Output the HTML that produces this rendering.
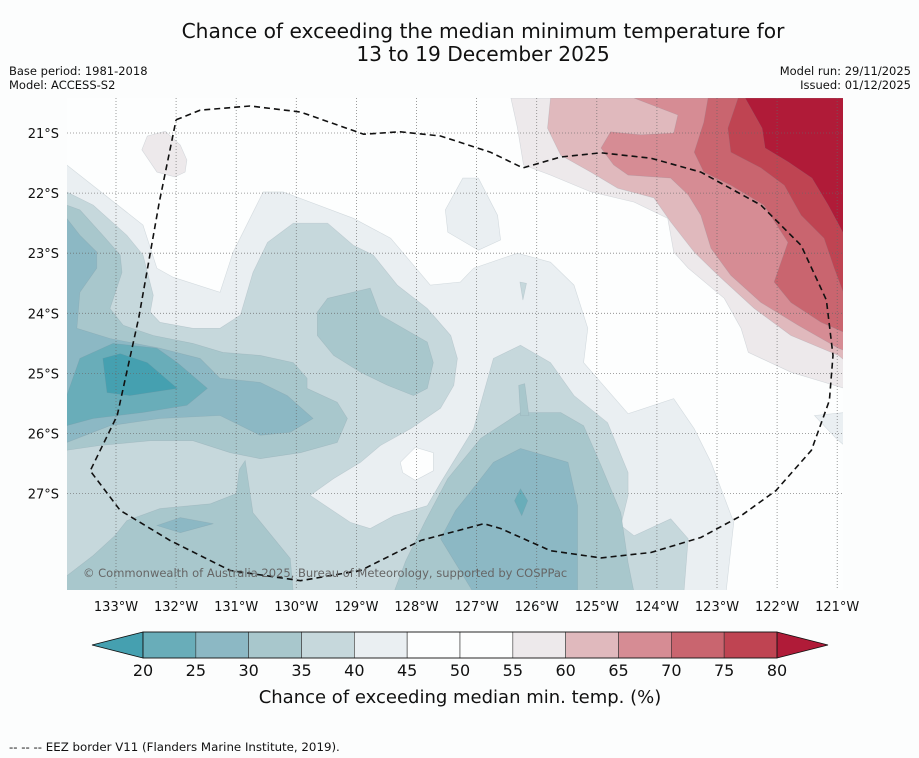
<!DOCTYPE html>
<html><head><meta charset="utf-8">
<style>
body{margin:0;background:#fcfdfd;width:919px;height:758px;overflow:hidden;font-family:"DejaVu Sans","Liberation Sans",sans-serif;}
svg{position:absolute;left:0;top:0}
text{font-family:"DejaVu Sans","Liberation Sans",sans-serif;}
</style></head>
<body>
<svg id="chart" width="919" height="758" viewBox="0 0 919 758"></svg>
<script>
// ---- data ----
const lonTicks=[133,132,131,130,129,128,127,126,125,124,123,122,121];
const latTicks=[21,22,23,24,25,26,27];
const levels=[20,25,30,35,40,45,50,55,60,65,70,75,80];
const binColors=["#69adb9","#8cb8c4","#a8c7cc","#c6d8dc","#eaeff2","#fdfefe","#fdfefe","#ede9eb","#e0b9bd","#d68c94","#c9656f","#bf4452"];
const underColor="#45a0b0", overColor="#b01b38";
const band40=[[133.82,21.53],[132.55,22.53],[132.32,23.25],[132.05,23.40],[131.27,23.65],[131.05,22.98],[130.55,21.98],[130.22,21.98],[129.05,22.42],[128.43,22.75],[127.77,23.53],[127.27,23.48],[127.05,23.25],[126.32,23.0],[125.77,23.15],[125.38,23.53],[125.15,24.25],[125.22,24.82],[124.48,25.67],[123.72,25.42],[123.38,25.92],[123.10,26.48],[122.72,27.48],[122.85,28.65],[133.82,28.65]];
const band40b=[[127.23,21.75],[126.97,21.75],[126.65,22.37],[126.6,22.78],[126.97,22.95],[127.48,22.65],[127.52,22.28]];
const band40c=[[121.38,25.7],[120.88,25.65],[120.88,26.2],[121.02,26.08]];
const hole45a=[[128.27,26.48],[128.02,26.23],[127.72,26.32],[127.72,26.62],[128.02,26.78],[128.23,26.65]];
const hole45b=[[133.82,27.45],[133.52,27.53],[133.38,28.03],[133.82,28.2]];
const band35=[[133.82,21.98],[133.38,22.2],[132.82,22.7],[132.55,23.03],[132.38,23.7],[132.43,23.98],[132.27,24.15],[131.72,24.25],[131.27,24.25],[130.93,24.03],[130.72,23.32],[130.48,22.82],[130.05,22.5],[129.48,22.5],[129.05,22.87],[128.72,23.03],[128.32,23.53],[127.82,23.92],[127.43,24.37],[127.32,24.75],[127.38,25.2],[127.6,25.58],[128.1,25.92],[128.6,26.2],[128.93,26.48],[129.38,26.75],[129.77,27.03],[129.1,27.48],[128.77,27.58],[128.38,27.37],[127.82,27.2],[127.6,26.82],[127.05,25.92],[126.72,24.75],[126.27,24.53],[125.77,24.82],[125.38,25.37],[124.82,25.82],[124.48,26.65],[124.48,27.03],[124.6,27.53],[124.38,27.7],[123.77,27.42],[123.48,27.75],[123.55,28.65],[133.82,28.65]];
const band35b=[[126.28,23.48],[126.17,23.5],[126.23,23.78]];
const band30a=[[133.82,22.2],[133.6,22.28],[133.22,22.7],[132.93,23.03],[132.9,23.32],[133.1,23.92],[132.88,24.2],[132.38,24.37],[131.72,24.5],[131.22,24.65],[130.6,24.7],[130.05,24.82],[129.82,25.08],[129.82,25.25],[129.32,25.48],[129.15,25.75],[129.32,26.15],[129.93,26.32],[130.6,26.42],[131.1,26.32],[131.72,26.12],[132.43,26.12],[133.27,26.2],[133.82,26.28]];
const band30b=[[130.85,26.45],[130.72,27.32],[130.1,28.08],[130.05,28.65],[133.82,28.65],[133.82,28.37],[133.38,28.03],[133.02,27.7],[132.82,27.45],[132.27,27.25],[131.43,27.17],[131.0,27.0],[130.95,26.6]];
const band30c=[[129.65,23.98],[129.48,23.75],[128.77,23.58],[128.6,24.03],[127.82,24.48],[127.72,24.82],[127.82,25.25],[128.05,25.37],[128.48,25.2],[128.93,24.98],[129.38,24.7],[129.65,24.37]];
const band30d=[[127.48,26.75],[126.93,26.08],[126.27,25.65],[125.6,25.65],[125.22,25.87],[124.93,26.53],[124.6,27.32],[124.48,28.15],[124.38,28.65],[128.38,28.65],[128.18,28.12],[127.85,27.45]];
const band30e=[[126.3,25.2],[126.2,25.17],[126.13,25.7],[126.27,25.7]];
const band25a=[[133.82,22.42],[133.6,22.7],[133.32,22.98],[133.32,23.25],[133.6,23.65],[133.65,24.25],[133.1,24.42],[132.27,24.58],[131.6,24.75],[131.27,25.08],[130.6,25.15],[130.15,25.37],[129.72,25.75],[130.1,25.98],[130.6,26.03],[131.27,25.7],[132.27,25.75],[133.1,25.87],[133.82,26.15]];
const band25b=[[132.32,27.53],[131.93,27.4],[131.38,27.5],[131.93,27.65]];
const band25c=[[127.15,27.03],[126.72,26.48],[126.27,26.25],[125.48,26.48],[125.32,27.2],[125.32,28.65],[127.05,28.65],[127.6,27.75],[127.35,27.28]];
const band20a=[[133.82,25.37],[133.6,24.75],[133.05,24.5],[132.32,24.58],[131.98,24.82],[131.48,25.25],[131.82,25.53],[132.55,25.65],[133.38,25.75],[133.82,25.87]];
const band20b=[[126.27,26.92],[126.15,27.12],[126.25,27.37],[126.37,27.12]];
const bandUnder=[[133.22,24.75],[132.93,24.67],[132.48,24.82],[131.98,25.25],[132.77,25.37],[133.15,25.32]];
const band55a=[[126.43,20.42],[126.32,20.92],[126.22,21.53],[125.77,21.7],[125.1,21.98],[124.38,22.15],[123.82,22.42],[123.72,22.98],[123.48,23.25],[122.88,23.75],[122.6,24.25],[122.48,24.65],[121.77,24.98],[120.88,25.25],[120.88,20.42]];
const band55b=[[132.48,21.05],[132.18,20.97],[131.93,21.2],[131.82,21.45],[131.85,21.65],[132.02,21.73],[132.32,21.65],[132.57,21.28]];
const band60=[[125.77,20.42],[125.82,20.92],[125.6,21.37],[125.1,21.65],[124.65,21.92],[124.05,22.08],[123.77,22.48],[123.38,22.98],[122.98,23.37],[122.38,23.92],[121.77,24.37],[120.98,24.7],[120.88,24.78],[120.88,20.42]];
const band65=[[124.38,20.42],[123.65,20.7],[123.72,21.0],[124.27,21.03],[124.77,20.98],[124.93,21.25],[124.72,21.53],[124.48,21.7],[123.77,21.75],[123.48,22.03],[123.27,22.37],[123.1,22.92],[122.77,23.37],[122.27,23.82],[121.65,24.2],[120.98,24.58],[120.88,24.62],[120.88,20.42]];
const band70=[[123.15,20.42],[123.22,20.82],[123.38,21.32],[123.22,21.65],[122.77,21.87],[122.22,22.2],[121.82,22.82],[122.05,23.48],[121.77,23.82],[121.27,24.15],[120.88,24.32],[120.88,20.42]];
const band75=[[122.65,20.42],[122.82,20.92],[122.77,21.32],[122.27,21.58],[121.88,21.87],[121.6,22.37],[121.22,22.75],[121.05,23.25],[120.88,23.7],[120.88,20.42]];
const bandOver=[[122.53,20.42],[122.25,20.92],[122.2,21.25],[121.82,21.48],[121.42,21.75],[121.15,22.2],[120.88,22.7],[120.88,20.42]];
const eez=[[132.0,20.78],[131.6,20.62],[130.77,20.55],[129.93,20.65],[128.88,21.02],[128.27,20.98],[127.6,21.05],[126.77,21.32],[126.23,21.58],[125.6,21.4],[124.93,21.33],[124.1,21.42],[123.27,21.65],[122.27,22.2],[121.6,22.87],[121.18,23.78],[121.07,24.7],[121.13,25.45],[121.43,26.28],[122.02,26.95],[122.6,27.37],[123.27,27.73],[124.1,27.98],[124.93,28.07],[125.77,27.95],[126.6,27.58],[126.88,27.5],[127.93,27.78],[128.93,28.28],[129.93,28.45],[131.1,28.28],[132.1,27.78],[132.93,27.28],[133.43,26.62],[132.98,25.7],[132.62,24.07],[132.28,22.15],[132.0,20.78]];

// ---- axes ----
const MAP={x0:67,y0:98,x1:843,y1:590};
const DEG=60.1;
function xS(lonW){return 116+(133-lonW)*DEG;}
function yS(latS){return 133+(latS-21)*DEG;}
const CB={x0:143,x1:777,y0:632,y1:658};
function cbX(v){return CB.x0+(v-levels[0])/(levels[levels.length-1]-levels[0])*(CB.x1-CB.x0);}

const NS="http://www.w3.org/2000/svg";
const svg=document.getElementById('chart');
function mk(tag,attrs,parent){const e=document.createElementNS(NS,tag);for(const k in attrs)e.setAttribute(k,attrs[k]);(parent||svg).appendChild(e);return e;}
function txt(s,attrs,parent){const e=mk('text',attrs,parent);e.textContent=s;return e;}

const defs=mk('defs',{});
const cp=mk('clipPath',{id:'mapclip'},defs);
mk('rect',{x:MAP.x0,y:MAP.y0,width:MAP.x1-MAP.x0,height:MAP.y1-MAP.y0},cp);

const mapG=mk('g',{'clip-path':'url(#mapclip)'});


const bg=mk('rect',{x:MAP.x0,y:MAP.y0,width:MAP.x1-MAP.x0,height:MAP.y1-MAP.y0,fill:binColors[5]},mapG);



function poly(pts,fill,name){
  const d=pts.map(p=>xS(p[0]).toFixed(1)+','+yS(p[1]).toFixed(1)).join(' ');
  const e=mk('polygon',{points:d,fill:fill,stroke:'rgba(120,140,150,0.25)','stroke-width':0.6},mapG);
  
  
}
poly(band40,binColors[4],'contour-40-45');
poly(band40b,binColors[4],'contour-40-45');
poly(band40c,binColors[4],'contour-40-45');
poly(hole45a,binColors[5],'contour-45-50');
poly(hole45b,binColors[5],'contour-45-50');
poly(band35,binColors[3],'contour-35-40');
poly(band35b,binColors[3],'contour-35-40');
poly(band30a,binColors[2],'contour-30-35');
poly(band30b,binColors[2],'contour-30-35');
poly(band30c,binColors[2],'contour-30-35');
poly(band30d,binColors[2],'contour-30-35');
poly(band30e,binColors[2],'contour-30-35');
poly(band25a,binColors[1],'contour-25-30');
poly(band25b,binColors[1],'contour-25-30');
poly(band25c,binColors[1],'contour-25-30');
poly(band20a,binColors[0],'contour-20-25');
poly(band20b,binColors[0],'contour-20-25');
poly(bandUnder,underColor,'contour-below-20');
poly(band55a,binColors[7],'contour-55-60');
poly(band55b,binColors[7],'contour-55-60');
poly(band60,binColors[8],'contour-60-65');
poly(band65,binColors[9],'contour-65-70');
poly(band70,binColors[10],'contour-70-75');
poly(band75,binColors[11],'contour-75-80');
poly(bandOver,overColor,'contour-above-80');

lonTicks.forEach(l=>{
  const g=mk('line',{x1:xS(l),x2:xS(l),y1:MAP.y0,y2:MAP.y1,stroke:'#666','stroke-width':0.8,'stroke-dasharray':'1,2','stroke-opacity':0.8},mapG);
  
  
});
latTicks.forEach(l=>{
  const g=mk('line',{x1:MAP.x0,x2:MAP.x1,y1:yS(l),y2:yS(l),stroke:'#666','stroke-width':0.8,'stroke-dasharray':'1,2','stroke-opacity':0.8},mapG);
  
  
});
const eezLine=mk('polyline',{points:eez.map(p=>xS(p[0]).toFixed(1)+','+yS(p[1]).toFixed(1)).join(' '),fill:'none',stroke:'#111','stroke-width':1.6,'stroke-dasharray':'6,4'},mapG);


const cr=txt('© Commonwealth of Australia 2025, Bureau of Meteorology, supported by COSPPac',{x:83,y:577,'font-size':11.5,fill:'#666'},mapG);



lonTicks.forEach(l=>{
  const t=txt(l+'°W',{x:xS(l),y:611,'font-size':13,'text-anchor':'middle',fill:'#111'});
  
  
});
latTicks.forEach(l=>{
  const t=txt(l+'°S',{x:59,y:yS(l)+5,'font-size':13,'text-anchor':'end',fill:'#111'});
  
  
});

const cbG=mk('g',{});


const tl=mk('polygon',{points:`92,${(CB.y0+CB.y1)/2} ${CB.x0},${CB.y0} ${CB.x0},${CB.y1}`,fill:underColor,stroke:'#111','stroke-width':0.8},cbG);


const tr=mk('polygon',{points:`828,${(CB.y0+CB.y1)/2} ${CB.x1},${CB.y0} ${CB.x1},${CB.y1}`,fill:overColor,stroke:'#111','stroke-width':0.8},cbG);


for(let i=0;i<levels.length-1;i++){
  const r=mk('rect',{x:cbX(levels[i]),y:CB.y0,width:cbX(levels[i+1])-cbX(levels[i]),height:CB.y1-CB.y0,fill:binColors[i],stroke:'#333','stroke-width':0.6},cbG);
  
  
}
mk('rect',{x:CB.x0,y:CB.y0,width:CB.x1-CB.x0,height:CB.y1-CB.y0,fill:'none',stroke:'#111','stroke-width':0.8},cbG);
levels.forEach(v=>{
  const t=txt(String(v),{x:cbX(v),y:676,'font-size':16,'text-anchor':'middle',fill:'#111'},cbG);
  
  
});
const cbt=txt('Chance of exceeding median min. temp. (%)',{x:460,y:703,'font-size':18,'text-anchor':'middle',fill:'#111'},cbG);



const t1=txt('Chance of exceeding the median minimum temperature for',{x:483,y:38,'font-size':20.2,'text-anchor':'middle',fill:'#111'});


const t2=txt('13 to 19 December 2025',{x:483,y:61,'font-size':20.2,'text-anchor':'middle',fill:'#111'});


const h1=txt('Base period: 1981-2018',{x:9,y:75,'font-size':11.5,fill:'#111'});


const h2=txt('Model: ACCESS-S2',{x:9,y:89,'font-size':11.5,fill:'#111'});


const h3=txt('Model run: 29/11/2025',{x:911,y:75,'font-size':11.5,'text-anchor':'end',fill:'#111'});


const h4=txt('Issued: 01/12/2025',{x:911,y:89,'font-size':11.5,'text-anchor':'end',fill:'#111'});


const ft=txt('--  --  -- EEZ border V11 (Flanders Marine Institute, 2019).',{x:9,y:751,'font-size':11.8,fill:'#111'});


</script>
</body></html>
